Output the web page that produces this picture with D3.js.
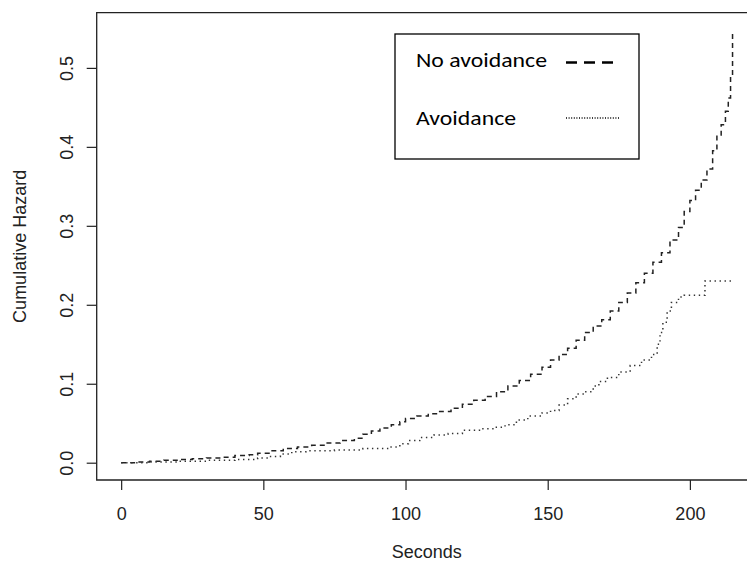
<!DOCTYPE html>
<html><head><meta charset="utf-8">
<script src="https://cdn.jsdelivr.net/npm/d3@7"></script>
<style>body{margin:0;background:#fff}svg{display:block}</style>
</head><body>
<svg id="c" width="747" height="567"></svg>
<script>
// ---- data ----
const noAvoidTime = [0,5,10,15,20,25,30,35,40,45,48,52,57,62,67,72,77,82,85,88,91,95,98,100,104,108,112,116,120,124,128,132,136,140,144,148,151,154,157,160,163,166,169,172,175,178,181,184,187,190,193,196,198,200,202,204,206,208,209.5,211,212.5,213.5,214.3,215];
const noAvoidHaz  = [0,0.001,0.002,0.003,0.004,0.005,0.006,0.007,0.009,0.010,0.012,0.015,0.018,0.020,0.022,0.025,0.028,0.031,0.036,0.040,0.044,0.048,0.052,0.056,0.059,0.062,0.065,0.069,0.074,0.079,0.084,0.090,0.097,0.104,0.112,0.121,0.130,0.137,0.145,0.155,0.165,0.173,0.181,0.192,0.203,0.215,0.228,0.240,0.254,0.266,0.282,0.298,0.318,0.332,0.345,0.358,0.372,0.395,0.415,0.428,0.445,0.462,0.490,0.548];
const avoidTime = [0,10,20,30,40,48,52,56,60,65,75,85,94,98,101,105,110,115,120,126,131,135,139,143,148,151,154,157,160,163,166,168,171,175,179,183,186.5,188.5,189.5,190.5,192,193.5,196,198,205.3,215.3];
const avoidHaz  = [0,0.001,0.002,0.003,0.004,0.006,0.008,0.011,0.014,0.015,0.016,0.018,0.020,0.024,0.028,0.032,0.035,0.037,0.041,0.043,0.045,0.048,0.054,0.059,0.063,0.066,0.073,0.081,0.087,0.090,0.097,0.103,0.108,0.115,0.123,0.130,0.137,0.150,0.165,0.178,0.192,0.203,0.210,0.212,0.230,0.230];
const xTicks = [0,50,100,150,200];
const yTicks = [0.0,0.1,0.2,0.3,0.4,0.5];
const legendLabels = ["No avoidance","Avoidance"];

// ---- scales ----
const svg = d3.select("#c");
const x = d3.scaleLinear().domain([-8.6, 223.6]).range([96.7, 757]);
const y = d3.scaleLinear().domain([-0.0219, 0.5699]).range([480, 12.7]);
const ink = "#222";
const axisFont = "'Liberation Sans', Arial, sans-serif";
const fs = 18;

// box (left, top, bottom visible)
svg.append("path")
  .attr("d", `M${x.range()[1]},${y.range()[1]}H${x.range()[0]}V${y.range()[0]}H${x.range()[1]}`)
  .attr("fill","none").attr("stroke",ink).attr("stroke-width",1.3);

// x axis
const xa = svg.append("g").attr("transform",`translate(0,${y.range()[0]})`)
  .call(d3.axisBottom(x).tickValues(xTicks).tickSize(10).tickPadding(17).tickFormat(d3.format("d")));
xa.select(".domain").remove();
xa.selectAll("line").attr("stroke",ink).attr("stroke-width",1.2);
xa.selectAll("text").attr("font-family",axisFont).attr("font-size",fs).attr("fill","#222");

// y axis (rotated labels)
const ya = svg.append("g").attr("transform",`translate(${x.range()[0]},0)`)
  .call(d3.axisLeft(y).tickValues(yTicks).tickSize(10).tickFormat(d3.format(".1f")));
ya.select(".domain").remove();
ya.selectAll("line").attr("stroke",ink).attr("stroke-width",1.2);
ya.selectAll("text")
  .attr("font-family",axisFont).attr("font-size",fs).attr("fill","#222")
  .attr("x",null).attr("dy",null)
  .attr("text-anchor","middle")
  .attr("transform","translate(-24,0) rotate(-90)");

// axis titles
svg.append("text").attr("x",(x(-8.6)+747+10)/2).attr("y",558)
  .attr("text-anchor","middle").attr("font-family",axisFont).attr("font-size",fs).attr("fill","#222")
  .text("Seconds");
svg.append("text").attr("transform",`translate(26,${(y.range()[0]+y.range()[1])/2}) rotate(-90)`)
  .attr("text-anchor","middle").attr("font-family",axisFont).attr("font-size",fs).attr("fill","#222")
  .text("Cumulative Hazard");

// curves
const line = d3.line().curve(d3.curveStepAfter).x(d=>x(d[0])).y(d=>y(d[1]));
svg.append("path").datum(d3.zip(noAvoidTime,noAvoidHaz)).attr("d",line)
  .attr("fill","none").attr("stroke","#222").attr("stroke-width",1.5).attr("stroke-dasharray","5,4");
svg.append("path").datum(d3.zip(avoidTime,avoidHaz)).attr("d",line)
  .attr("fill","none").attr("stroke","#333").attr("stroke-width",1.5).attr("stroke-dasharray","1.4,3.6");

// legend
const lg = svg.append("g");
lg.append("rect").attr("x",395).attr("y",34).attr("width",244).attr("height",125)
  .attr("fill","#fff").attr("stroke","#000").attr("stroke-width",1.3);
const legFont = "Carlito, Lato, 'Open Sans', sans-serif";
lg.append("text").attr("x",416).attr("y",67).attr("font-family",legFont).attr("font-size",19.5)
  .attr("textLength",131).attr("lengthAdjust","spacingAndGlyphs").text(legendLabels[0]);
lg.append("text").attr("x",416).attr("y",125).attr("font-family",legFont).attr("font-size",19.5)
  .attr("textLength",100).attr("lengthAdjust","spacingAndGlyphs").text(legendLabels[1]);
lg.append("line").attr("x1",566).attr("x2",613).attr("y1",62.5).attr("y2",62.5)
  .attr("stroke","#000").attr("stroke-width",2.6).attr("stroke-dasharray","11,7");
lg.append("line").attr("x1",566).attr("x2",620).attr("y1",118).attr("y2",118)
  .attr("stroke","#000").attr("stroke-width",1.3).attr("stroke-dasharray","1,1.6");
</script>
</body></html>
